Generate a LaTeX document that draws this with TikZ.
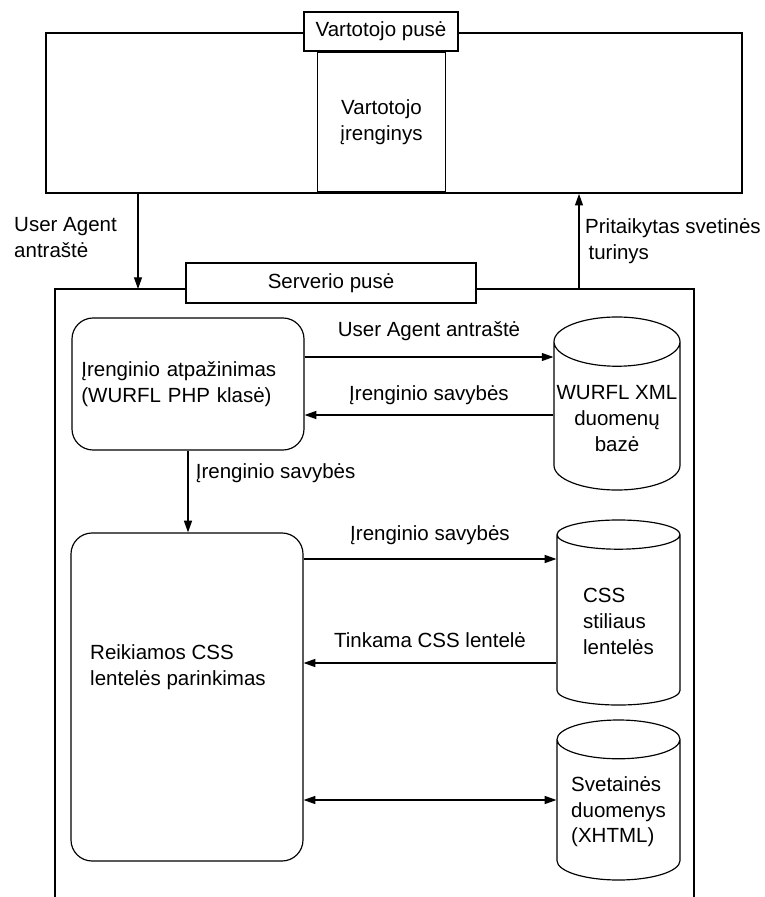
\documentclass[tikz,border=0pt]{standalone}
\usepackage{fontspec}
\setmainfont{Liberation Sans}
\usetikzlibrary{shapes.geometric, arrows.meta, positioning}

\begin{document}
\begin{tikzpicture}[
  x=0.03cm, y=-0.03cm,
  font=\fontsize{17.5}{22}\selectfont,
  >={Triangle[length=3.5mm,width=2.4mm]},
  tagbox/.style={draw, fill=white, line width=1pt, inner sep=0pt},
  procbox/.style={draw, rounded corners=18pt, line width=1pt, inner sep=0pt},
  dbcyl/.style={draw, cylinder, shape border rotate=90, aspect=0.4, anchor=shape center, line width=1pt, inner sep=1pt, align=left},
  arr/.style={->, line width=1pt},
  lbl/.style={align=left, inner sep=0pt}
]
  \useasboundingbox (0,0) rectangle (765,897);

  % client side
  \node[draw, line width=1.4pt, minimum width=20.88cm, minimum height=4.8cm] (client) at (394,113) {};
  \node[draw, line width=1pt, minimum width=3.84cm, minimum height=4.2cm, align=center] (device) at (381.5,122) {Vartotojo\\įrenginys};
  \node[tagbox, minimum width=4.62cm, minimum height=1.17cm] (clientlbl) at (381,31.5) {Vartotojo pusė};

  % server side (open at the bottom)
  \coordinate (srvNW) at (55,289);
  \coordinate (srvNE) at (694,289);
  \draw[line width=1pt] (55,897) -- (srvNW) -- (srvNE) -- (694,897);
  \coordinate (uaIn) at (138,289);
  \coordinate (pageOut) at (579,289);
  \draw[arr] (client.south -| uaIn) -- (uaIn);
  \draw[arr] (pageOut) -- (pageOut |- client.south);
  \node[tagbox, minimum width=8.7cm, minimum height=1.2cm] (srvlbl) at (331,283) {Serverio pusė};
  \node[lbl, anchor=west] (ualbl) at (14,237.5) {User Agent\\antraštė};
  \node[lbl, anchor=west] (pagelbl) at (585,241) {Pritaikytas svetinės\\\hspace{1mm}turinys};

  % processing blocks
  \node[procbox, minimum width=6.96cm, minimum height=3.96cm, text width=6.4cm, align=left] (recog) at (188,384) {Įrenginio atpažinimas\\(WURFL PHP klasė)};
  \node[procbox, minimum width=6.96cm, minimum height=9.84cm] (select) at (187,697) {};
  \node[lbl, anchor=west] (selecttxt) at (90,667) {Reikiamos CSS\\lentelės parinkimas};

  % data stores
  \node[dbcyl, minimum width=3.78cm, minimum height=5.19cm, align=center] (wurfl) at (617,403.5) {WURFL XML\\duomenų\\bazė};
  \node[dbcyl, minimum width=3.69cm, minimum height=5.55cm] (css) at (618.5,612.5) {CSS\\stiliaus\\lentelės};
  \node[dbcyl, minimum width=3.69cm, minimum height=4.8cm] (site) at (618.5,800) {Svetainės\\duomenys\\(XHTML)};

  % flows
  \draw[arr] ([yshift=0.81cm]recog.east) -- ([yshift=0.81cm]recog.east -| wurfl.180)
    node[midway, above=3.5mm] {User Agent antraštė};
  \draw[arr] ([yshift=-0.93cm]recog.east -| wurfl.180) -- ([yshift=-0.93cm]recog.east)
    node[midway, above=1.8mm] {Įrenginio savybės};
  \draw[arr] (recog.south) -- (recog.south |- select.north)
    node[pos=0.28, right=1mm] {Įrenginio savybės};
  \draw[arr] ([yshift=4.14cm]select.east) -- ([yshift=4.14cm]select.east -| css.180)
    node[midway, above=3mm] {Įrenginio savybės};
  \draw[arr] ([yshift=1.02cm]select.east -| css.180) -- ([yshift=1.02cm]select.east)
    node[midway, above=3.3mm] {Tinkama CSS lentelė};
  \draw[<->, line width=1pt] ([yshift=-3.09cm]select.east) -- ([yshift=-3.09cm]select.east -| site.180);
\end{tikzpicture}
\end{document}
